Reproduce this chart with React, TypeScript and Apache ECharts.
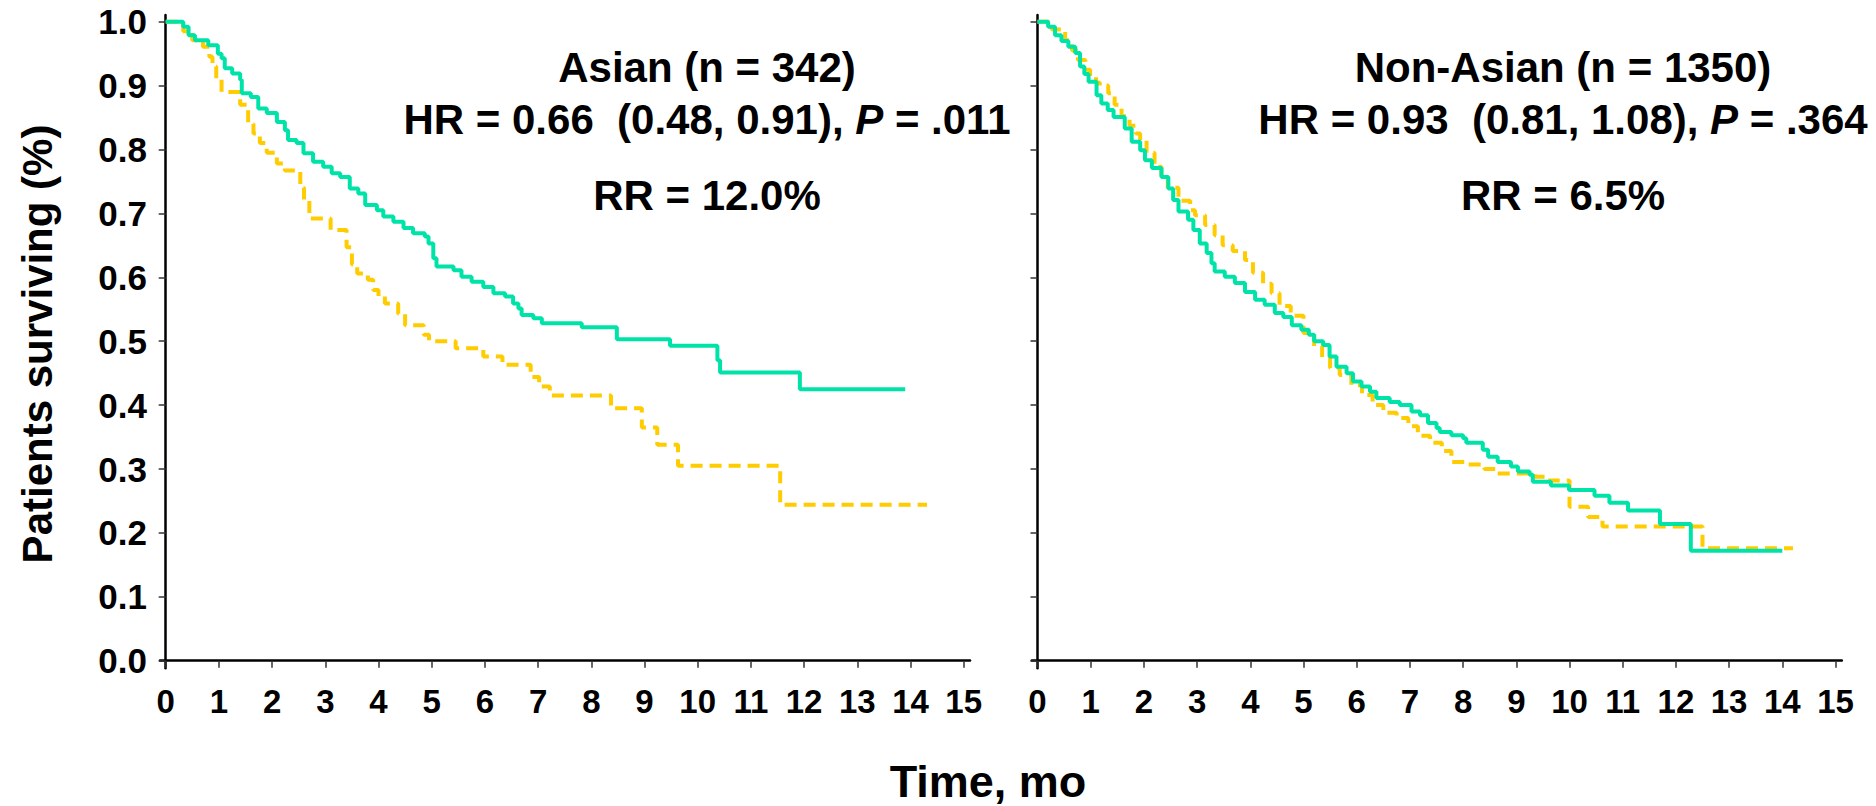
import React, { useEffect, useRef } from "react";
import * as echarts from "echarts";

// ---- data (time in months, survival proportion) ----
const xTickValues = [0, 1, 2, 3, 4, 5, 6, 7, 8, 9, 10, 11, 12, 13, 14, 15];
const yTickValues = [0, 0.1, 0.2, 0.3, 0.4, 0.5, 0.6, 0.7, 0.8, 0.9, 1.0];

const asianTreatment: [number, number][] = [
  [0, 1], [0.33, 0.992], [0.43, 0.979], [0.55, 0.971], [0.8, 0.963], [0.98, 0.95],
  [1.05, 0.943], [1.11, 0.927], [1.25, 0.919], [1.4, 0.909], [1.43, 0.888], [1.6, 0.882],
  [1.74, 0.864], [1.9, 0.857], [2.09, 0.843], [2.24, 0.83], [2.3, 0.815], [2.46, 0.81],
  [2.59, 0.794], [2.77, 0.781], [2.96, 0.773], [3.12, 0.763], [3.28, 0.757], [3.46, 0.739],
  [3.62, 0.731], [3.75, 0.713], [3.97, 0.705], [4.09, 0.695], [4.28, 0.687], [4.47, 0.677],
  [4.65, 0.669], [4.87, 0.664], [4.94, 0.653], [5.03, 0.63], [5.09, 0.617], [5.41, 0.611],
  [5.56, 0.601], [5.75, 0.593], [5.97, 0.585], [6.16, 0.575], [6.38, 0.57], [6.53, 0.559],
  [6.63, 0.551], [6.69, 0.541], [6.91, 0.536], [7.07, 0.528], [7.82, 0.522], [8.48, 0.503],
  [9.48, 0.493], [10.37, 0.47], [10.42, 0.451], [11.92, 0.425], [13.9, 0.425],
];

const asianControl: [number, number][] = [
  [0, 1], [0.33, 0.985], [0.5, 0.971], [0.7, 0.961], [0.82, 0.945], [0.88, 0.93],
  [0.95, 0.91], [1.05, 0.89], [1.4, 0.87], [1.55, 0.84], [1.65, 0.825], [1.77, 0.81],
  [1.9, 0.795], [2.09, 0.778], [2.24, 0.767], [2.53, 0.74], [2.6, 0.72], [2.7, 0.692],
  [3.1, 0.674], [3.4, 0.647], [3.5, 0.62], [3.6, 0.606], [3.8, 0.596], [3.9, 0.58],
  [4.0, 0.57], [4.12, 0.559], [4.37, 0.543], [4.5, 0.525], [4.85, 0.51], [4.95, 0.5],
  [5.45, 0.489], [5.97, 0.476], [6.33, 0.463], [6.86, 0.444], [7.02, 0.429], [7.22, 0.415],
  [8.37, 0.395], [8.95, 0.365], [9.24, 0.338], [9.63, 0.305], [11.55, 0.244], [14.31, 0.244],
];

const nonAsianTreatment: [number, number][] = [
  [0, 1], [0.2, 0.992], [0.33, 0.979], [0.45, 0.97], [0.58, 0.961], [0.71, 0.951],
  [0.8, 0.93], [0.88, 0.918], [0.96, 0.906], [1.11, 0.885], [1.2, 0.872], [1.32, 0.862],
  [1.43, 0.851], [1.64, 0.833], [1.77, 0.812], [1.93, 0.799], [2.02, 0.783], [2.15, 0.771],
  [2.33, 0.757], [2.46, 0.739], [2.55, 0.721], [2.65, 0.703], [2.83, 0.69], [2.93, 0.674],
  [3.05, 0.653], [3.18, 0.638], [3.27, 0.622], [3.33, 0.609], [3.52, 0.601], [3.71, 0.591],
  [3.9, 0.577], [4.09, 0.565], [4.27, 0.557], [4.46, 0.544], [4.62, 0.538], [4.78, 0.525],
  [4.96, 0.518], [5.1, 0.51], [5.2, 0.5], [5.37, 0.494], [5.49, 0.476], [5.62, 0.46],
  [5.81, 0.45], [5.93, 0.437], [6.09, 0.429], [6.25, 0.421], [6.37, 0.411], [6.62, 0.405],
  [6.81, 0.4], [7.03, 0.39], [7.19, 0.384], [7.34, 0.372], [7.5, 0.364], [7.56, 0.358],
  [7.78, 0.353], [8.0, 0.348], [8.06, 0.341], [8.37, 0.33], [8.47, 0.319], [8.65, 0.311],
  [8.9, 0.304], [9.03, 0.296], [9.25, 0.291], [9.31, 0.28], [9.65, 0.274], [9.99, 0.267],
  [10.47, 0.258], [10.75, 0.247], [11.1, 0.235], [11.7, 0.214], [12.28, 0.172], [14.0, 0.172],
];

const nonAsianControl: [number, number][] = [
  [0, 1], [0.27, 0.988], [0.52, 0.971], [0.65, 0.955], [0.76, 0.94], [0.9, 0.925],
  [0.99, 0.918], [1.1, 0.905], [1.17, 0.9], [1.33, 0.888], [1.45, 0.87], [1.58, 0.852],
  [1.73, 0.837], [1.85, 0.825], [1.93, 0.815], [2.05, 0.795], [2.2, 0.773], [2.33, 0.757],
  [2.45, 0.74], [2.65, 0.72], [2.87, 0.705], [2.96, 0.697], [3.15, 0.682], [3.33, 0.666],
  [3.48, 0.65], [3.67, 0.641], [3.9, 0.627], [4.05, 0.607], [4.24, 0.59], [4.4, 0.575],
  [4.55, 0.555], [4.76, 0.54], [5.0, 0.513], [5.2, 0.492], [5.35, 0.474], [5.5, 0.458],
  [5.68, 0.447], [5.9, 0.431], [6.1, 0.416], [6.3, 0.4], [6.5, 0.388], [6.75, 0.38],
  [6.97, 0.367], [7.15, 0.352], [7.38, 0.341], [7.6, 0.328], [7.78, 0.311], [8.07, 0.307],
  [8.4, 0.3], [8.65, 0.293], [9.35, 0.288], [9.6, 0.282], [10.0, 0.241], [10.35, 0.225],
  [10.62, 0.21], [12.5, 0.176], [14.2, 0.176],
];

const panelTitles = ["Asian (n = 342)", "Non-Asian (n = 1350)"];
const panelHR = [
  ["HR = 0.66  (0.48, 0.91), ", "P", " = .011"],
  ["HR = 0.93  (0.81, 1.08), ", "P", " = .364"],
];
const panelRR = ["RR = 12.0%", "RR = 6.5%"];

const FONT = "'Liberation Sans', Arial, Helvetica, sans-serif";
const TEAL = "#00E3A8";
const YELLOW = "#FFCC00";

export default function App() {
  const ref = useRef<HTMLDivElement>(null);

  useEffect(() => {
    if (!ref.current) return;
    const chart = echarts.init(ref.current, undefined, { renderer: "svg" });

    const xAxisFor = (gridIndex: number) => ({
      type: "value",
      gridIndex,
      min: -0.107,
      max: 15.118,
      axisLine: { show: true, lineStyle: { color: "#000", width: 2.5 } },
      axisTick: {
        show: true,
        length: 7,
        customValues: xTickValues,
        lineStyle: { color: "#333", width: 1.5 },
      },
      axisLabel: {
        show: true,
        customValues: xTickValues,
        formatter: (v: number) => String(Math.round(v)),
        fontSize: 33,
        fontWeight: "bold",
        fontFamily: FONT,
        color: "#000",
        margin: 17,
      },
      splitLine: { show: false },
    });

    const yAxisFor = (gridIndex: number, labels: boolean) => ({
      type: "value",
      gridIndex,
      min: -0.0119,
      max: 1.0105,
      axisLine: { show: true, lineStyle: { color: "#000", width: 2.5 } },
      axisTick: {
        show: true,
        length: 7,
        customValues: yTickValues,
        lineStyle: { color: "#333", width: 1.5 },
      },
      axisLabel: {
        show: labels,
        customValues: yTickValues,
        formatter: (v: number) => v.toFixed(1),
        fontSize: 35,
        fontWeight: "bold",
        fontFamily: FONT,
        color: "#000",
        margin: 13,
      },
      splitLine: { show: false },
    });

    const lineSeries = (
      name: string,
      data: [number, number][],
      idx: number,
      color: string,
      dashed: boolean,
      z: number
    ) => ({
      type: "line",
      name,
      xAxisIndex: idx,
      yAxisIndex: idx,
      data,
      step: "end",
      showSymbol: false,
      symbol: "none",
      z,
      lineStyle: {
        color,
        width: 4,
        type: dashed ? [12, 7] : "solid",
      },
    });

    const textStyle = (size: number) => ({
      fontSize: size,
      fontWeight: "bold",
      fontFamily: FONT,
      fill: "#000",
    });

    const annotation = (cx: number, i: number) => [
      {
        type: "text",
        x: cx,
        y: 67.5,
        style: {
          text: panelTitles[i],
          textAlign: "center",
          textVerticalAlign: "middle",
          ...textStyle(42),
        },
      },
      {
        type: "text",
        x: cx,
        y: 119.5,
        style: {
          text: `{a|${panelHR[i][0]}}{p|${panelHR[i][1]}}{a|${panelHR[i][2]}}`,
          textAlign: "center",
          textVerticalAlign: "middle",
          ...textStyle(42),
          rich: {
            a: { fontSize: 42, fontWeight: "bold", fontFamily: FONT, color: "#000" },
            p: {
              fontSize: 42,
              fontWeight: "bold",
              fontStyle: "italic",
              fontFamily: FONT,
              color: "#000",
            },
          },
        },
      },
      {
        type: "text",
        x: cx,
        y: 195.5,
        style: {
          text: panelRR[i],
          textAlign: "center",
          textVerticalAlign: "middle",
          ...textStyle(42),
        },
      },
    ];

    chart.setOption({
      animation: false,
      backgroundColor: "#fff",
      grid: [
        { left: 160, width: 810, top: 15, bottom: 137.7, containLabel: false },
        { left: 1031.8, width: 810, top: 15, bottom: 137.7, containLabel: false },
      ],
      xAxis: [xAxisFor(0), xAxisFor(1)],
      yAxis: [yAxisFor(0, true), yAxisFor(1, false)],
      series: [
        lineSeries("Asian control", asianControl, 0, YELLOW, true, 2),
        lineSeries("Asian treatment", asianTreatment, 0, TEAL, false, 3),
        lineSeries("Non-Asian control", nonAsianControl, 1, YELLOW, true, 2),
        lineSeries("Non-Asian treatment", nonAsianTreatment, 1, TEAL, false, 3),
      ],
      graphic: [
        {
          type: "text",
          x: 37.5,
          y: 344,
          rotation: Math.PI / 2,
          style: {
            text: "Patients surviving (%)",
            textAlign: "center",
            textVerticalAlign: "middle",
            ...textStyle(42),
          },
        },
        {
          type: "text",
          x: 988,
          y: 781,
          style: {
            text: "Time, mo",
            textAlign: "center",
            textVerticalAlign: "middle",
            ...textStyle(45),
          },
        },
        ...annotation(707, 0),
        ...annotation(1563, 1),
      ],
    });

    return () => chart.dispose();
  }, []);

  return (
    <div
      ref={ref}
      style={{
        position: "fixed",
        left: 0,
        top: 0,
        width: 1876,
        height: 806,
        background: "#fff",
      }}
    />
  );
}
